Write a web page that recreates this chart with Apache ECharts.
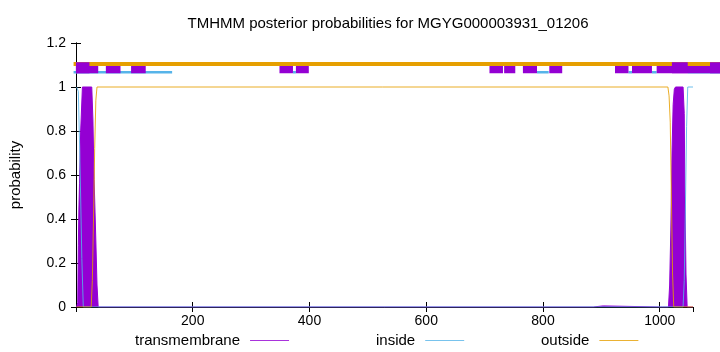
<!DOCTYPE html>
<html><head><meta charset="utf-8">
<script src="https://cdn.jsdelivr.net/npm/echarts@6/dist/echarts.min.js"></script>
<style>html,body{margin:0;padding:0;background:#fff}#c{width:720px;height:352px}</style>
</head><body><div id="c"></div>
<script>
const titleText = 'TMHMM posterior probabilities for MGYG000003931_01206';
const seriesNames = ['transmembrane', 'inside', 'outside'];
const xRange = [0, 1057];
const xStripRange = [0, 1103];   // strip layer continues past the frame to the page edge
const xTickStep = 200;
const yRange = [0, 1.2];
const yTickStep = 0.2;

// posterior curves [residue, probability]
const tmCurve = [[1,0],[3,0.02],[4,0.28],[5,0.45],[6,0.56],[8,0.8],[11,1],[27,1],[29,0.85],[31,0.58],[34,0.3],[36,0.1],[38,0],
  [886,0],[888,0.005],[903,0.005],[905,0],[1001,0],[1002,0.005],[1004,0.005],[1005,0],
  [1015,0],[1017,0.1],[1019,0.35],[1021,0.7],[1023,0.92],[1025,0.99],[1027,1],[1040,1],[1042,0.88],[1043,0.55],[1045,0.15],[1047,0],[1057,0]];
const insideCurve = [[1,1],[4,0.98],[6,0.75],[8,0.5],[10,0.22],[12.5,0],[1040,0],[1042,0.12],[1044,0.45],[1046,0.82],[1048,1],[1057,1]];
const outsideCurve = [[1,0],[26,0],[28,0.12],[30,0.4],[32,0.72],[34,0.94],[36,1],[1014,1],[1016,0.96],[1018,0.84],[1020,0.5],[1022,0.15],[1024,0],[1057,0]];

// predicted segment strips at top: [start, end]
const insideStrip = [[1,169],[375,380],[791,811],[947,953],[987,995],[1048,1110]];
const tmStrip = [[5,43],[56,81],[99,124],[352,375],[380,402],[710,733],[735,754],[767,791],[812,834],[924,947],[953,987],[995,1021],[1021,1048],[1048,1086],[1086,1110]];
const tmStripTall = [[5,28],[1021,1048],[1086,1110]];
const outsideStrip = [[1,1110]];
const stripY = {inside: 1.067, tm: 1.0795, tmTall: 1.087, outside: 1.105};

function segs(list, y) {
  const out = [];
  list.forEach(([a, b], i) => {
    if (i) out.push([(list[i - 1][1] + a) / 2, '-']);
    out.push([a, y], [b, y]);
  });
  return out;
}

const C = {tm: '#9400D3', inside: '#56B4E9', outside: '#E69F00'};
const font = 'Liberation Sans, Arial, sans-serif';

const chart = echarts.init(document.getElementById('c'), null, {renderer: 'canvas'});
const tick = {show: true, inside: true, length: 5, lineStyle: {color: '#000'}};
const axisLine = {show: true, lineStyle: {color: '#000', width: 1}};

function stripSeries(data, color, width, z) {
  return {type: 'line', xAxisIndex: 2, yAxisIndex: 2, data, symbol: 'none', silent: true, connectNulls: false, z,
    lineStyle: {color, width, cap: 'butt'}, legendHoverLink: false};
}

function legendFor(name, color, left) {
  return {data: [{name, icon: 'rect', itemStyle: {color, borderWidth: 0, opacity: 0.8}}], left, top: 328, padding: 5,
    orient: 'horizontal', align: 'right', itemWidth: 39, itemHeight: 1,
    textStyle: {fontFamily: font, fontSize: 15, color: '#000', padding: [0, 5, 0, 0]}, selectedMode: false};
}

chart.setOption({
  animation: false,
  backgroundColor: '#fff',
  title: {text: titleText, left: 383, textAlign: 'center', top: 11, textStyle: {fontFamily: font, fontSize: 15, fontWeight: 'normal', color: '#000'}},
  legend: [legendFor(seriesNames[0], C.tm, 130), legendFor(seriesNames[1], C.inside, 371), legendFor(seriesNames[2], C.outside, 536)],
  grid: [
    {left: 73, right: 27, top: 43, bottom: 45, containLabel: false},
    {left: 73, right: 0, top: 43, bottom: 45, containLabel: false}
  ],
  xAxis: [
    {type: 'value', gridIndex: 0, min: xRange[0], max: xRange[1], interval: xTickStep, axisLine, axisTick: tick, splitLine: {show: false},
      axisLabel: {showMinLabel: false, showMaxLabel: false, fontFamily: font, fontSize: 14, color: '#000', margin: 7, formatter: v => String(v)}},
    {type: 'value', gridIndex: 0, position: 'top', min: xRange[0], max: xRange[1], interval: xTickStep, axisLine, axisTick: tick, splitLine: {show: false}, axisLabel: {show: false}},
    {type: 'value', gridIndex: 1, min: xStripRange[0], max: xStripRange[1], show: false}
  ],
  yAxis: [
    {type: 'value', gridIndex: 0, min: yRange[0], max: yRange[1], interval: yTickStep, axisLine, axisTick: tick, splitLine: {show: false},
      name: 'probability', nameLocation: 'middle', nameGap: 53, nameTextStyle: {fontFamily: font, fontSize: 15, color: '#000'},
      axisLabel: {fontFamily: font, fontSize: 14, color: '#000', margin: 10}},
    {type: 'value', gridIndex: 0, position: 'right', min: yRange[0], max: yRange[1], interval: yTickStep, axisLine, axisTick: tick, splitLine: {show: false}, axisLabel: {show: false}},
    {type: 'value', gridIndex: 1, min: yRange[0], max: yRange[1], show: false}
  ],
  series: [
    {name: seriesNames[0], type: 'line', data: tmCurve, symbol: 'none', z: 2,
      lineStyle: {color: C.tm, width: 1}, itemStyle: {color: C.tm}, areaStyle: {color: C.tm, opacity: 1}},
    {name: seriesNames[1], type: 'line', data: insideCurve, symbol: 'none', z: 3,
      lineStyle: {color: C.inside, width: 1, opacity: 0.85}, itemStyle: {color: C.inside}},
    {name: seriesNames[2], type: 'line', data: outsideCurve, symbol: 'none', z: 4,
      lineStyle: {color: C.outside, width: 1, opacity: 0.85}, itemStyle: {color: C.outside}},
    stripSeries(segs(insideStrip, stripY.inside), C.inside, 2.5, 5),
    stripSeries(segs(tmStrip, stripY.tm), C.tm, 7.6, 6),
    stripSeries(segs(outsideStrip, stripY.outside), C.outside, 4, 7),
    stripSeries(segs(tmStripTall, stripY.tmTall), C.tm, 11, 8)
  ]
});
</script></body></html>
